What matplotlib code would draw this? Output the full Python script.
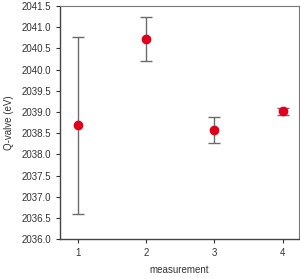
import matplotlib
matplotlib.use("Agg")
import matplotlib.pyplot as plt

measurement = [1, 2, 3, 4]
q_value = [2038.69, 2040.72, 2038.58, 2039.02]
q_err = [2.09, 0.52, 0.31, 0.08]
y_ticks = [2036.0, 2036.5, 2037.0, 2037.5, 2038.0, 2038.5, 2039.0,
           2039.5, 2040.0, 2040.5, 2041.0, 2041.5]

plt.rcParams['font.family'] = ['Liberation Sans', 'DejaVu Sans']
fig = plt.figure(figsize=(3.0, 2.79), dpi=100)
ax = fig.add_axes([0.2, 0.143, 0.797, 0.835])

ax.errorbar(measurement, q_value, yerr=q_err, fmt='o', color='#e0001b',
            markersize=6, ecolor='#6b6b6b', elinewidth=1.0, capsize=4,
            capthick=1.0, zorder=3)

ax.set_xlim(0.74, 4.24)
ax.set_ylim(2036.0, 2041.5)
ax.set_xticks(measurement)
ax.set_yticks(y_ticks)
ax.set_yticklabels(["%.1f" % v for v in y_ticks])
ax.tick_params(labelsize=7, colors='#333333', length=3, width=0.8,
               labelcolor='#333333')
for side in ['left', 'bottom']:
    ax.spines[side].set_color('#444444')
    ax.spines[side].set_linewidth(1.0)
for side in ['top', 'right']:
    ax.spines[side].set_color('#777777')
    ax.spines[side].set_linewidth(0.8)

ax.set_ylabel("Q-valve (eV)", fontsize=7, color='#333333', labelpad=5)
ax.set_xlabel("measurement", fontsize=7, color='#333333', labelpad=5)

fig.savefig("out.png", dpi=100)
